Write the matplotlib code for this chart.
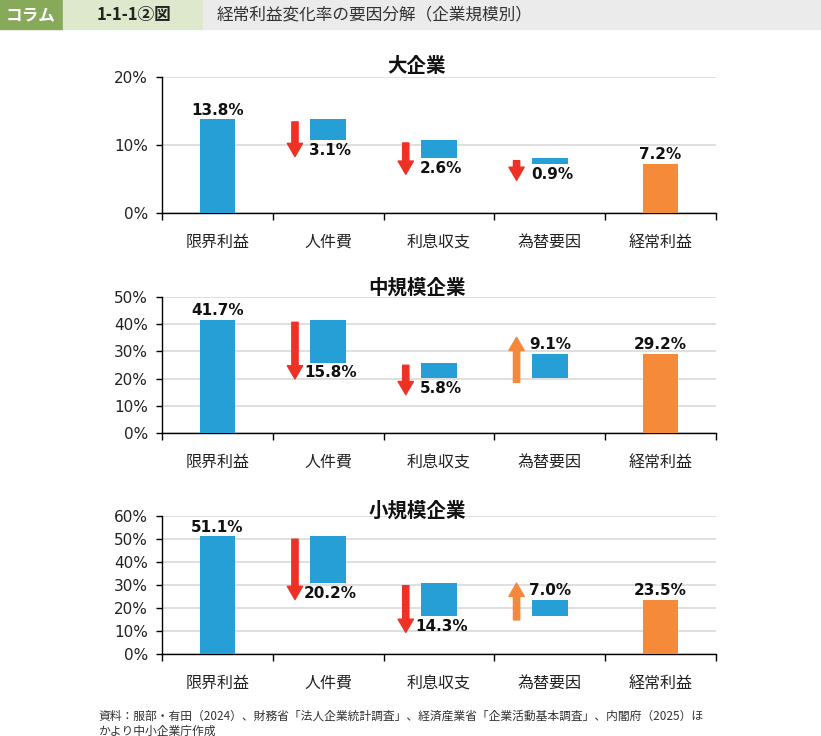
import matplotlib
matplotlib.use("Agg")
import matplotlib.pyplot as plt
from matplotlib.patches import Rectangle
from matplotlib.ticker import FuncFormatter

plt.rcParams['font.family'] = ['DejaVu Sans', 'Noto Sans CJK JP']

# data
categories = ['限界利益', '人件費', '利息収支', '為替要因', '経常利益']
panel_titles = ['大企業', '中規模企業', '小規模企業']
large = [13.8, -3.1, -2.6, -0.9, 7.2]
medium = [41.7, -15.8, -5.8, 9.1, 29.2]
small = [51.1, -20.2, -14.3, 7.0, 23.5]
panel_values = [large, medium, small]
y_max = [20, 50, 60]
y_step = [10, 10, 10]

header_tag = 'コラム'
header_no = '1-1-1②図'
header_title = '経常利益変化率の要因分解（企業規模別）'
source_lines = ['資料：服部・有田（2024）、財務省「法人企業統計調査」、経済産業省「企業活動基本調査」、内閣府（2025）ほ',
                'かより中小企業庁作成']

blue = '#269fd7'
orange = '#f68a3b'
red_arrow = '#ee3124'
orange_arrow = '#f5883a'
jp = 'Noto Sans CJK JP'

W, H = 821, 736
fig = plt.figure(figsize=(W / 100, H / 100), dpi=100)

# header band
band_h = 29 / H
fig.patches.append(Rectangle((0, 1 - band_h), 63 / W, band_h, transform=fig.transFigure,
                             color='#86a95a', zorder=0))
fig.patches.append(Rectangle((63 / W, 1 - band_h), 140 / W, band_h, transform=fig.transFigure,
                             color='#dde8cc', zorder=0))
fig.patches.append(Rectangle((203 / W, 1 - band_h), 1 - 203 / W, band_h, transform=fig.transFigure,
                             color='#ebebeb', zorder=0))
fig.text(31 / W, 1 - 15 / H, header_tag, family=jp, fontsize=12, fontweight='bold',
         color='white', ha='center', va='center')
fig.text(134 / W, 1 - 15 / H, header_no, family=jp, fontsize=12, fontweight='bold',
         color='#222222', ha='center', va='center')
fig.text(217 / W, 1 - 15 / H, header_title, family=jp, fontsize=12,
         color='#333333', ha='left', va='center')

# panels: (top px of y_max, bottom px of 0)
panel_px = [(77, 213), (297, 433), (516, 654)]
title_px = [67, 288, 511]
left, width = 162 / W, 554 / W
bar_w = 0.32
arrow_dx = -0.3

for vals, ymax, step, (ptop, pbot), title, ty in zip(panel_values, y_max, y_step,
                                                      panel_px, panel_titles, title_px):
    ax = fig.add_axes([left, 1 - pbot / H, width, (pbot - ptop) / H])
    n = len(categories)
    x = list(range(n))

    running = 0
    for i, v in enumerate(vals):
        if i == 0 or i == n - 1:
            color = blue if i == 0 else orange
            ax.bar(i, v, bar_w, bottom=0, color=color, zorder=3)
            ax.text(i, v + ymax * 0.012, f'{abs(v):.1f}%', ha='center', va='bottom',
                    fontsize=11, fontweight='bold', color='#111111', zorder=4)
            running = v
        else:
            start = running
            end = running + v
            ax.bar(i, v, bar_w, bottom=start, color=blue, zorder=3)
            if v < 0:
                a0 = start - ymax * 0.02
                a1 = end - ymax * 0.12
                acol = red_arrow
                ax.text(i + 0.02, end - ymax * 0.02, f'{abs(v):.1f}%', ha='center', va='top',
                        fontsize=11, fontweight='bold', color='#111111', zorder=4)
            else:
                a0 = start - ymax * 0.03
                a1 = end + ymax * 0.12
                acol = orange_arrow
                ax.text(i, end + ymax * 0.012, f'{abs(v):.1f}%', ha='center', va='bottom',
                        fontsize=11, fontweight='bold', color='#111111', zorder=4)
            ax.annotate('', xy=(i + arrow_dx, a1), xytext=(i + arrow_dx, a0),
                        arrowprops=dict(arrowstyle='simple,head_length=0.95,head_width=1.1,tail_width=0.45',
                                        mutation_scale=10, color=acol, shrinkA=0, shrinkB=0),
                        zorder=4)
            running = end

    ax.set_xlim(-0.5, n - 0.5)
    ax.set_ylim(0, ymax)
    ax.set_yticks(range(0, ymax + 1, step))
    ax.yaxis.set_major_formatter(FuncFormatter(lambda v, p: f'{v:.0f}%'))
    ax.yaxis.grid(True, color='#d9d9d9', linewidth=1.2, zorder=0)
    ax.set_axisbelow(True)

    ax.set_xticks(x)
    ax.set_xticklabels(categories, family=jp, fontsize=11.5, color='#222222')
    ax.set_xticks([i - 0.5 for i in range(n + 1)], minor=True)
    ax.tick_params(axis='x', which='major', length=0, pad=15)
    ax.tick_params(axis='x', which='minor', length=5, width=1, color='black')
    ax.tick_params(axis='y', length=4, width=1, pad=6, labelsize=11, labelcolor='#222222')

    ax.spines['top'].set_visible(False)
    ax.spines['right'].set_visible(False)
    ax.spines['left'].set_linewidth(1)
    ax.spines['bottom'].set_linewidth(1)

    fig.text(417 / W, 1 - ty / H, title, family=jp, fontsize=14, fontweight='bold',
             color='#111111', ha='center', va='center')

# source note
fig.text(98 / W, 1 - 716 / H, source_lines[0], family=jp, fontsize=8.5, color='#333333',
         ha='left', va='center')
fig.text(98 / W, 1 - 731 / H, source_lines[1], family=jp, fontsize=8.5, color='#333333',
         ha='left', va='center')

plt.savefig('out.png', dpi=100)
